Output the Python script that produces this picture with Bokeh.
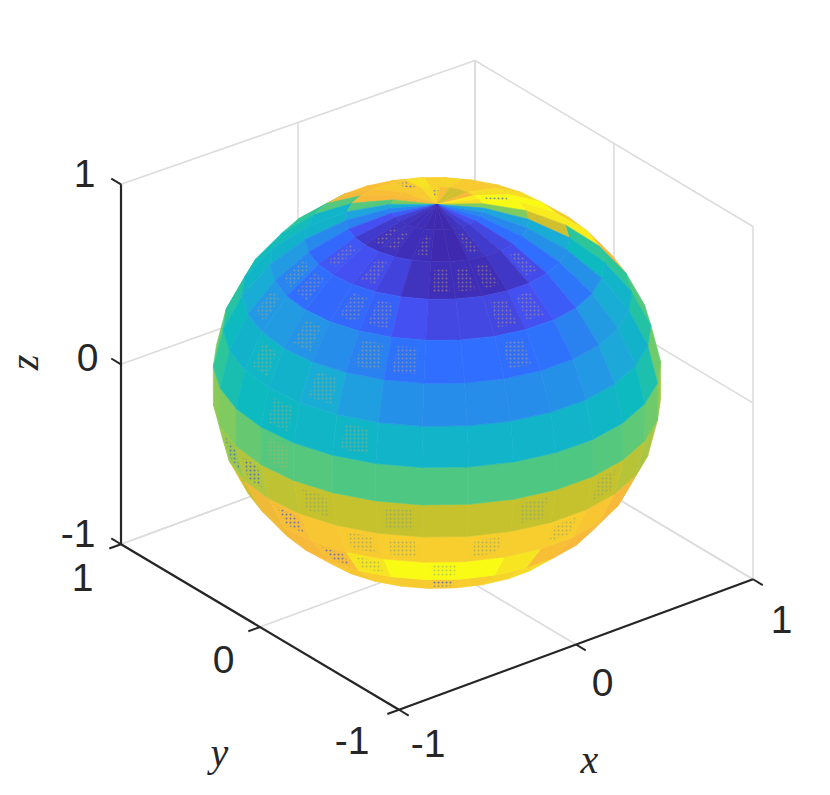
import math
from bokeh.plotting import figure
from bokeh.models import ColumnDataSource
from bokeh.core.properties import value
from bokeh.embed import file_html
from bokeh.resources import INLINE

# Panel values on the parula scale. One row per latitude band
# (north to south), one column per longitude panel, starting at the left silhouette.
N = None
band_00 = [.35,.22,.12,.06,.03,.02,.02,.01,.01,.01,.03,.06,.10,.16,.22,.30,.60,.90,.95,.80,.72,.72,.82,.88,.90,.85,.85,.82,.80,.60]
band_01 = [.30,.20,.10,.05,.03,.03,.02,.02,.01,.01,.03,.05,.08,.15,.22,.30,.60,1.0,1.0,.90,.85,.85,.88,.87,.92,.85,.85,.82,.80,.55]
band_02 = [.36,.22,.14,.11,.10,.09,.07,.03,.02,.02,.02,.04,.09,.15,.24,.33,.72,.95,1.0,.90,.85,.85,.85,.85,.85,.82,.82,.80,.55,.37]
band_03 = [.36,.27,.21,.15,.14,.14,.13,.10,.08,.08,.08,.10,.12,.17,.24,.40,.50,.95,.85,.85,N,N,N,N,N,N,.80,.55,.50,.42]
band_04 = [.38,.33,.26,.27,.25,.23,.20,.16,.15,.15,.15,.16,.20,.27,.33,.37,.50,.80,N,N,N,N,N,N,N,N,N,N,.45,.42]
band_05 = [.48,.40,.36,.38,.36,.33,.28,.24,.23,.23,.23,.24,.26,.31,.36,.47,.55,N,N,N,N,N,N,N,N,N,N,N,N,.45]
band_06 = [.58,.50,.44,.40,.39,.38,.38,.37,.37,.37,.37,.37,.38,.40,.45,.58,.58,N,N,N,N,N,N,N,N,N,N,N,N,N]
band_07 = [.67,.62,.60,.57,.55,.55,.54,.54,.54,.54,.54,.54,.55,.56,.58,.64,N,N,N,N,N,N,N,N,N,N,N,N,N,N]
band_08 = [.62,.62,.64,.67,.69,.70,.70,.70,.70,.70,.70,.70,.70,.68,.66,.64,N,N,N,N,N,N,N,N,N,N,N,N,N,N]
band_09 = [N,.70,.72,.78,.82,.84,.85,.86,.86,.86,.86,.86,.84,.80,.72,.70,N,N,N,N,N,N,N,N,N,N,N,N,N,N]
band_10 = [N,N,N,.78,.80,.82,.93,1.0,1.0,1.0,.93,.82,.80,.78,N,N,N,N,N,N,N,N,N,N,N,N,N,N,N,N]
band_11 = [N,N,N,N,.84,.84,.86,.85,.85,.86,.88,.90,.90,N,N,N,N,N,N,N,N,N,N,N,N,N,N,N,N,N]
band_12 = [N,N,N,N,N,N,.85,.85,.85,.85,.85,N,N,N,N,N,N,N,N,N,N,N,N,N,N,N,N,N,N,N]
bands = [band_00, band_01, band_02, band_03, band_04, band_05, band_06, band_07,
         band_08, band_09, band_10, band_11, band_12]

# Panels that show the interleaved speckle: (band, column)
speck_warm = [(1,4),(1,5),(1,7),(1,10),(2,3),(2,5),(2,8),(2,9),(2,10),(2,12),(3,2),(3,3),(3,5),(3,6),
              (3,10),(3,11),(4,2),(4,4),(4,6),(4,7),(4,10),(5,3),(5,5),(6,4),(6,6),(7,4)]
speck_cool = [(8,5),(8,7),(8,10),(8,12),(9,6),(9,7),(9,9),(9,11),(10,6),(10,8)]
speck_deep = [(8,2),(8,3),(9,4),(10,5),(11,8),(0,23),(1,25),(1,18)]

x_ticks = [-1, 0, 1]
y_ticks = [-1, 0, 1]
z_ticks = [-1, 0, 1]
tick_text = ["-1", "0", "1"]

# parula stops
stops = [(0.0,"#3e26a8"),(.10,"#4450f2"),(.15,"#2f6eff"),(.20,"#2a82f0"),(.30,"#1ea6dc"),(.40,"#0cbac0"),
         (.50,"#2dc59a"),(.60,"#7fcb60"),(.70,"#c6c22e"),(.80,"#f8b83a"),(.90,"#f6dc26"),(1.0,"#f9fb15")]
def rgb(h): return [int(h[i:i+2],16) for i in (1,3,5)]
def parula(v):
    for (a,ca),(b,cb) in zip(stops, stops[1:]):
        if v <= b:
            t=(v-a)/(b-a); A,B=rgb(ca),rgb(cb)
            return "#%02x%02x%02x"%tuple(round(A[i]+(B[i]-A[i])*t) for i in range(3))
    return stops[-1][1]

# view projection to page pixels
def proj(x,y,z):
    return (436.5+177.0*x-139.0*y, 383.1-63.6*x-82.9*y-z*(178.15-1.65*x+.15*y))
V=(-.533,-.676,.510)

p = figure(width=822, height=787, x_range=(0,822), y_range=(787,0), toolbar_location=None,
           output_backend="svg", min_border=0, outline_line_color=None)
p.xaxis.visible=False; p.yaxis.visible=False; p.grid.visible=False
p.background_fill_color="white"; p.border_fill_color="white"

def seg(pts, color, width):
    xs=[];ys=[]
    for a in pts:
        q=proj(*a); xs.append(q[0]); ys.append(q[1])
    p.line(xs,ys,line_color=color,line_width=width)

# back planes
GRID="#dcdcdc"
for t in x_ticks:
    seg([(t,-1,-1),(t,1,-1),(t,1,1)],GRID,1.6)
for t in y_ticks:
    seg([(-1,t,-1),(1,t,-1),(1,t,1)],GRID,1.6)
for t in z_ticks:
    seg([(-1,1,t),(1,1,t),(1,-1,t)],GRID,1.6)

# sphere
STEP=12.0
def facet(r,k):
    lat1=math.radians(90-r*STEP); lat0=math.radians(90-(r+1)*STEP)
    l0=math.radians(132+k*STEP); l1=math.radians(132+(k+1)*STEP)
    return [(math.cos(a)*math.cos(l),math.cos(a)*math.sin(l),math.sin(a))
            for a,l in ((lat1,l0),(lat1,l1),(lat0,l1),(lat0,l0))]
def facing(P):
    cx=sum(q[0] for q in P)/4; cy=sum(q[1] for q in P)/4; cz=sum(q[2] for q in P)/4
    return cx*V[0]+cy*V[1]+cz*V[2]
order=[]
items={}
for r,row in enumerate(bands):
    for k,v in enumerate(row):
        if v is None: continue
        P=facet(r,k)
        if facing(P)<=-0.01: continue
        scr=[proj(*q) for q in P]
        scr=[(q[0],q[1]-1.0) for q in scr]
        items[(r,k)]=scr
        order.append((facing(P),[q[0] for q in scr],[q[1] for q in scr],parula(v)))
order.sort(key=lambda o:o[0])
src=ColumnDataSource(dict(xs=[o[1] for o in order],ys=[o[2] for o in order],c=[o[3] for o in order]))
p.patches("xs","ys",source=src,fill_color="c",line_color="c",line_width=0.6)

def speck(lst,color,alpha):
    L=[]
    for i in lst:
        if i not in items: continue
        s=items[i]; mx=sum(q[0] for q in s)/4; my=sum(q[1] for q in s)/4
        L.append([(mx+(q[0]-mx)*.62,my+(q[1]-my)*.62) for q in s])
    p.patches([[q[0] for q in s] for s in L],[[q[1] for q in s] for s in L],fill_alpha=0,line_alpha=0,
              hatch_pattern="dot",hatch_color=color,hatch_scale=4,hatch_weight=1.0,hatch_alpha=alpha)
speck(speck_warm,"#c8a860",.5)
speck(speck_cool,"#5f8f90",.45)
speck(speck_deep,"#3a5ce0",.75)

# axes
AX="#262626"
seg([(-1,1,-1),(-1,1,1)],AX,2.2)
seg([(-1,1,-1),(-1,-1,-1)],AX,2.2)
seg([(-1,-1,-1),(1,-1,-1)],AX,2.2)
for t in z_ticks: seg([(-1,1,t),(-1,1.07,t)],AX,2)
for t in y_ticks: seg([(-1,t,-1),(-1.066,t,-1)],AX,2)
for t in x_ticks: seg([(t,-1,-1),(t,-1.07,-1)],AX,2)

SANS=dict(text_font=value("Liberation Sans"),text_font_size="39px",text_color=AX)
p.text([95,98,95],[533,357,173],text=tick_text,text_align="right",text_baseline="alphabetic",**SANS)
p.text([369,234,93],[740,659,577],text=tick_text,text_align="right",text_baseline="alphabetic",**SANS)
p.text([445,613,792],[743,682,619],text=tick_text,text_align="right",text_baseline="alphabetic",**SANS)

SER=dict(text_font=value("Liberation Serif"),text_font_style="italic",text_font_size="40px",text_color=AX)
p.text([589],[759],text=["x"],text_align="center",text_baseline="alphabetic",**SER)
p.text([219],[752],text=["y"],text_align="center",text_baseline="alphabetic",**SER)
p.text([24],[362],text=["z"],angle=math.pi/2,text_align="center",text_baseline="alphabetic",**SER)

open("out.html","w").write(file_html(p,INLINE))
